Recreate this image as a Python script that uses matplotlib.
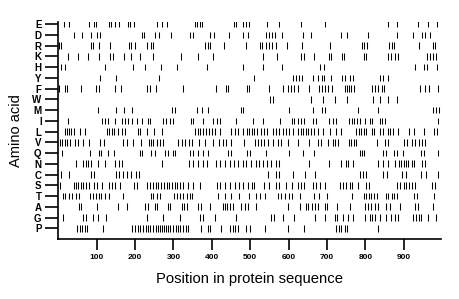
import matplotlib
matplotlib.use('Agg')
import matplotlib.pyplot as plt

# amino acid rows, top to bottom
amino = ['E', 'D', 'R', 'K', 'H', 'Y', 'F', 'W', 'M', 'I',
         'L', 'V', 'Q', 'N', 'C', 'S', 'T', 'A', 'G', 'P']

# positions of each residue in the sequence
pos_E = [16, 29, 79, 92, 98, 131, 138, 147, 159, 181, 188, 197, 258, 271, 283, 355, 362, 368, 374,
         458, 462, 481, 488, 497, 544, 576, 632, 695, 860, 882, 938, 964, 986]
pos_D = [42, 63, 85, 100, 109, 217, 222, 252, 263, 294, 343, 351, 395, 406, 445, 480, 494, 541, 550,
         557, 565, 582, 637, 658, 736, 751, 807, 881, 924, 947, 956, 968]
pos_R = [3, 7, 85, 91, 107, 134, 185, 190, 201, 231, 242, 246, 383, 390, 396, 431, 488, 525, 531, 542,
         549, 556, 566, 595, 634, 708, 790, 797, 805, 861, 868, 875, 940, 975, 981]
pos_K = [25, 52, 78, 105, 136, 142, 170, 189, 212, 248, 319, 364, 403, 533, 570, 633, 640, 665, 704,
         710, 740, 745, 795, 801, 860, 866, 877, 886, 961, 967, 975, 984]
pos_H = [6, 18, 121, 194, 226, 267, 310, 388, 480, 534, 582, 682, 691, 928, 952, 960, 987]
pos_Y = [108, 151, 262, 511, 611, 620, 628, 636, 663, 676, 686, 693, 710, 740, 748, 761, 768, 837,
         847, 860]
pos_F = [2, 17, 24, 59, 99, 106, 149, 164, 231, 239, 255, 324, 412, 436, 443, 491, 498, 549, 585, 598,
         607, 614, 625, 654, 680, 686, 695, 703, 712, 746, 751, 757, 763, 769, 817, 826, 834, 843, 849,
         943, 956, 965, 990]
pos_W = [551, 558, 658, 689, 721, 752, 821, 837, 860, 882]
pos_M = [104, 151, 170, 191, 295, 304, 361, 375, 391, 475, 482, 602, 663, 686, 695, 780, 834, 975,
         983, 991]
pos_I = [26, 113, 122, 130, 148, 165, 174, 182, 191, 204, 217, 234, 240, 273, 280, 290, 299, 345, 352,
         377, 404, 413, 421, 463, 508, 533, 577, 608, 615, 624, 632, 639, 663, 671, 706, 715, 723, 756,
         765, 771, 778, 785, 800, 811, 817, 837, 843, 852, 990]
pos_L = [17, 22, 28, 33, 41, 56, 70, 126, 132, 139, 145, 156, 165, 174, 208, 214, 230, 249, 270, 356,
         363, 370, 377, 385, 393, 400, 409, 420, 451, 460, 468, 481, 492, 498, 504, 511, 518, 527, 535,
         544, 559, 567, 576, 585, 593, 602, 611, 624, 631, 638, 644, 651, 658, 667, 676, 689, 709, 723,
         736, 776, 782, 788, 795, 802, 817, 823, 839, 847, 858, 865, 873, 886, 913, 926, 952, 978, 986]
pos_V = [4, 10, 17, 24, 30, 43, 52, 64, 80, 108, 118, 168, 179, 194, 216, 235, 241, 248, 257, 266, 274,
         312, 321, 330, 340, 349, 366, 382, 404, 418, 430, 437, 451, 484, 512, 520, 527, 537, 546, 559,
         572, 580, 598, 624, 654, 676, 683, 702, 715, 721, 728, 756, 762, 769, 776, 830, 852, 858, 900,
         908, 921, 930, 939, 947, 956]
pos_Q = [9, 83, 105, 111, 129, 145, 213, 219, 242, 251, 279, 286, 298, 305, 344, 352, 365, 378, 391,
         443, 450, 491, 500, 541, 602, 637, 667, 785, 791, 797, 847, 853, 875, 881, 897, 945, 952, 989]
pos_N = [46, 65, 72, 78, 84, 104, 121, 147, 158, 165, 270, 340, 352, 365, 376, 388, 410, 422, 434, 446,
         458, 468, 480, 490, 503, 514, 523, 533, 544, 555, 567, 575, 653, 705, 737, 749, 754, 768, 834,
         846, 858, 878, 887, 893, 900, 906, 912, 921, 927, 947, 956]
pos_C = [7, 28, 86, 92, 150, 158, 168, 180, 189, 202, 211, 546, 568, 575, 611, 643, 668, 785, 794, 802,
         846, 856, 894, 905, 946, 959, 990]
pos_S = [4, 40, 46, 52, 58, 65, 72, 81, 92, 101, 114, 131, 139, 148, 160, 196, 205, 231, 239, 248, 254,
         261, 268, 275, 282, 289, 296, 303, 310, 318, 326, 339, 352, 370, 413, 422, 435, 448, 459, 471,
         482, 494, 504, 511, 537, 550, 567, 576, 593, 608, 624, 632, 641, 664, 672, 681, 694, 733, 742,
         750, 759, 765, 780, 802, 808, 882, 891, 900, 906, 913, 921, 930, 973, 982]
pos_T = [11, 17, 28, 35, 47, 54, 82, 90, 98, 106, 112, 121, 131, 168, 242, 248, 256, 266, 302, 309, 318,
         326, 334, 342, 349, 416, 433, 450, 470, 497, 514, 525, 538, 572, 581, 590, 601, 610, 629, 665,
         680, 699, 765, 795, 802, 808, 814, 823, 830, 854, 860, 869, 875, 882, 926, 934, 978]
pos_A = [54, 59, 100, 156, 178, 227, 234, 251, 257, 286, 290, 321, 328, 334, 364, 373, 395, 428, 434,
         440, 447, 455, 477, 486, 494, 516, 598, 629, 645, 651, 660, 668, 677, 694, 700, 725, 759, 798,
         807, 815, 824, 833, 854, 863, 889, 928, 937, 976]
pos_G = [11, 65, 72, 91, 104, 124, 230, 273, 317, 369, 377, 408, 464, 555, 561, 585, 613, 668, 694, 720,
         726, 741, 754, 767, 800, 811, 818, 824, 837, 854, 867, 876, 885, 924, 932, 939, 945, 963, 985]
pos_P = [49, 56, 63, 69, 75, 116, 191, 200, 208, 214, 221, 228, 234, 240, 247, 254, 260, 265, 270, 275,
         281, 286, 292, 299, 306, 312, 318, 325, 332, 338, 371, 390, 396, 425, 447, 454, 461, 469, 490,
         499, 538, 598, 639, 723, 730, 737, 746, 752, 833]

all_pos = [pos_E, pos_D, pos_R, pos_K, pos_H, pos_Y, pos_F, pos_W, pos_M, pos_I,
           pos_L, pos_V, pos_Q, pos_N, pos_C, pos_S, pos_T, pos_A, pos_G, pos_P]
x_ticks = [100, 200, 300, 400, 500, 600, 700, 800, 900]

plt.rcParams['font.family'] = ['Liberation Sans', 'DejaVu Sans']

fig = plt.figure(figsize=(4.6, 2.99), dpi=100)
ax = fig.add_axes([0.1267, 0.2007, 0.8313, 0.7257])

n = len(amino)
offsets = [n - 1 - i for i in range(n)]
ax.eventplot(all_pos, lineoffsets=offsets, linelengths=0.62,
             linewidths=0.75, colors='black')

ax.set_xlim(0, 996)
ax.set_ylim(-1, 19.2)
ax.set_xticks(x_ticks)
ax.set_xticklabels([str(v) for v in x_ticks], fontsize=6, fontweight='bold')
ax.set_yticks(offsets)
ax.set_yticklabels(amino, fontsize=7, fontweight='bold')
ax.tick_params(axis='y', length=9.5, width=1.2, pad=2.5)
ax.tick_params(axis='x', length=8, width=1.2, pad=3)

for side in ['top', 'right']:
    ax.spines[side].set_visible(False)
ax.spines['left'].set_linewidth(1.2)
ax.spines['bottom'].set_linewidth(1.2)

ax.set_xlabel('Position in protein sequence', fontsize=10.7, labelpad=8)
ax.set_ylabel('Amino acid', fontsize=10.5, labelpad=7)

fig.savefig('out.png', dpi=100)
